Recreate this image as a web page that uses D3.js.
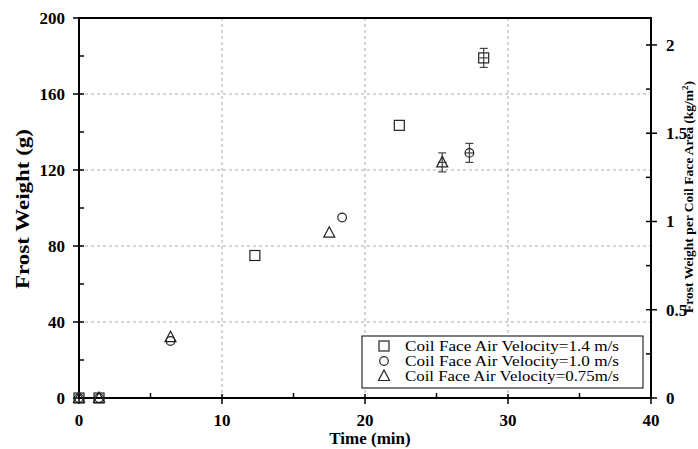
<!DOCTYPE html>
<html><head><meta charset="utf-8">
<script src="https://cdn.jsdelivr.net/npm/d3@7/dist/d3.min.js"></script>
<style>body{margin:0;background:#fff}svg{display:block}</style>
</head><body><svg id="c" width="698" height="449" font-family="'Liberation Serif', 'Times New Roman', serif"></svg>
<script>
const xTicks = [0, 10, 20, 30, 40];
const yTicks = [0, 40, 80, 120, 160, 200];
const y2Ticks = [0, 0.5, 1, 1.5, 2];
const coilArea = 0.092903; // m^2 (1 ft^2)

const sqTime = [0, 1.4, 12.3, 22.4, 28.3];
const sqWeight = [0, 0, 75, 143.5, 179];
const sqErr = [0, 0, 0, 0, 5];

const ciTime = [0, 1.4, 6.4, 18.4, 27.3];
const ciWeight = [0, 0, 30, 95, 129];
const ciErr = [0, 0, 0, 0, 5];

const trTime = [0, 1.4, 6.4, 17.5, 25.4];
const trWeight = [0, 0, 32, 87, 124];
const trErr = [0, 0, 0, 0, 5];

const legendLabels = ["Coil Face Air Velocity=1.4 m/s", "Coil Face Air Velocity=1.0 m/s", "Coil Face Air Velocity=0.75m/s"];

const svg = d3.select("#c");
const L = 79, R = 651, T = 18, B = 398;
const x = d3.scaleLinear().domain([0, 40]).range([L, R]);
const y = d3.scaleLinear().domain([0, 200]).range([B, T]);
const y2 = d3.scaleLinear().domain([0, 0.2 / coilArea]).range([B, T]);

// grid
const g = svg.append("g");
g.selectAll(".gx").data(xTicks.filter(d => d > 0 && d < 40)).enter().append("line")
  .attr("x1", d => x(d)).attr("x2", d => x(d)).attr("y1", T).attr("y2", B)
  .attr("stroke", "#aaa").attr("stroke-dasharray", "3,3").attr("stroke-width", 1);
g.selectAll(".gy").data(yTicks.filter(d => d > 0 && d < 200)).enter().append("line")
  .attr("y1", d => y(d)).attr("y2", d => y(d)).attr("x1", L).attr("x2", R)
  .attr("stroke", "#aaa").attr("stroke-dasharray", "3,3").attr("stroke-width", 1);

// frame
svg.append("rect").attr("x", L).attr("y", T).attr("width", R - L).attr("height", B - T)
  .attr("fill", "none").attr("stroke", "#000").attr("stroke-width", 2);

const ax = svg.append("g").attr("stroke", "#000").attr("stroke-width", 1.5);
xTicks.forEach(d => ax.append("line").attr("x1", x(d)).attr("x2", x(d)).attr("y1", B - 4).attr("y2", B + 6));
[5, 15, 25, 35].forEach(d => ax.append("line").attr("x1", x(d)).attr("x2", x(d)).attr("y1", B).attr("y2", B - 5));
yTicks.forEach(d => ax.append("line").attr("y1", y(d)).attr("y2", y(d)).attr("x1", L - 6).attr("x2", L + 5));
[20, 60, 100, 140, 180].forEach(d => ax.append("line").attr("y1", y(d)).attr("y2", y(d)).attr("x1", L).attr("x2", L + 5));
y2Ticks.forEach(d => ax.append("line").attr("y1", y2(d)).attr("y2", y2(d)).attr("x1", R - 5).attr("x2", R + 6));
[0.25, 0.75, 1.25, 1.75].forEach(d => ax.append("line").attr("y1", y2(d)).attr("y2", y2(d)).attr("x1", R).attr("x2", R - 5));

// tick labels
svg.selectAll(".xl").data(xTicks).enter().append("text")
  .attr("x", d => x(d)).attr("y", 426).attr("text-anchor", "middle")
  .attr("font-size", 17).attr("font-weight", "bold").text(d => d);
svg.selectAll(".yl").data(yTicks).enter().append("text")
  .attr("x", 65).attr("y", d => y(d) + 6).attr("text-anchor", "end")
  .attr("font-size", 17).attr("font-weight", "bold").text(d => d);
svg.selectAll(".y2l").data(y2Ticks).enter().append("text")
  .attr("x", 666).attr("y", d => y2(d) + 6).attr("text-anchor", "start")
  .attr("font-size", 17).attr("font-weight", "bold").text(d => d);

// axis titles
svg.append("text").attr("x", 370).attr("y", 444).attr("text-anchor", "middle")
  .attr("font-size", 17).attr("font-weight", "bold").text("Time (min)");
svg.append("text").attr("transform", "translate(29,209) rotate(-90)").attr("text-anchor", "middle")
  .attr("font-size", 18).attr("font-weight", "bold")
  .attr("textLength", 160).attr("lengthAdjust", "spacingAndGlyphs").text("Frost Weight (g)");
const rt = svg.append("text").attr("transform", "translate(693,197) rotate(-90)").attr("text-anchor", "middle")
  .attr("font-size", 13.5).attr("font-weight", "bold");
rt.append("tspan").text("Frost Weight per Coil Face Area (kg/m");
rt.append("tspan").attr("font-size", 9).attr("dy", -5).text("2");
rt.append("tspan").attr("dy", 5).text(")");

// symbols
function drawSym(sel, type, cx, cy) {
  if (type === "square") {
    sel.append("rect").attr("x", cx - 5).attr("y", cy - 5).attr("width", 10).attr("height", 10)
      .attr("fill", "none").attr("stroke", "#222").attr("stroke-width", 1.2);
  } else if (type === "circle") {
    sel.append("circle").attr("cx", cx).attr("cy", cy).attr("r", 4.3)
      .attr("fill", "none").attr("stroke", "#222").attr("stroke-width", 1.2);
  } else {
    sel.append("path").attr("d", `M${cx},${cy - 6}L${cx + 5.5},${cy + 4.5}L${cx - 5.5},${cy + 4.5}Z`)
      .attr("fill", "none").attr("stroke", "#222").attr("stroke-width", 1.2);
  }
}
const series = [
  {type: "square", t: sqTime, w: sqWeight, e: sqErr},
  {type: "circle", t: ciTime, w: ciWeight, e: ciErr},
  {type: "triangle", t: trTime, w: trWeight, e: trErr}
];
const pts = svg.append("g");
series.forEach(s => {
  s.t.forEach((t, i) => {
    const cx = x(t), cy = y(s.w[i]);
    if (s.e[i] > 0) {
      const y0 = y(s.w[i] - s.e[i]), y1 = y(s.w[i] + s.e[i]);
      const eb = pts.append("g").attr("stroke", "#444").attr("stroke-width", 1.2);
      eb.append("line").attr("x1", cx).attr("x2", cx).attr("y1", y0).attr("y2", y1);
      eb.append("line").attr("x1", cx - 4).attr("x2", cx + 4).attr("y1", y0).attr("y2", y0);
      eb.append("line").attr("x1", cx - 4).attr("x2", cx + 4).attr("y1", y1).attr("y2", y1);
      eb.append("line").attr("x1", x(t - 0.3)).attr("x2", x(t + 0.3)).attr("y1", cy).attr("y2", cy);
    }
    drawSym(pts, s.type, cx, cy);
  });
});

// legend
const lg = svg.append("g");
lg.append("rect").attr("x", 362).attr("y", 336).attr("width", 281).attr("height", 52)
  .attr("fill", "#fff").attr("stroke", "#000").attr("stroke-width", 1);
series.forEach((s, i) => {
  const ly = 346 + i * 15;
  drawSym(lg, s.type, 384, ly);
  lg.append("text").attr("x", 405).attr("y", ly + 5).attr("font-size", 15)
    .attr("textLength", 214).attr("lengthAdjust", "spacingAndGlyphs").text(legendLabels[i]);
});
</script></body></html>
